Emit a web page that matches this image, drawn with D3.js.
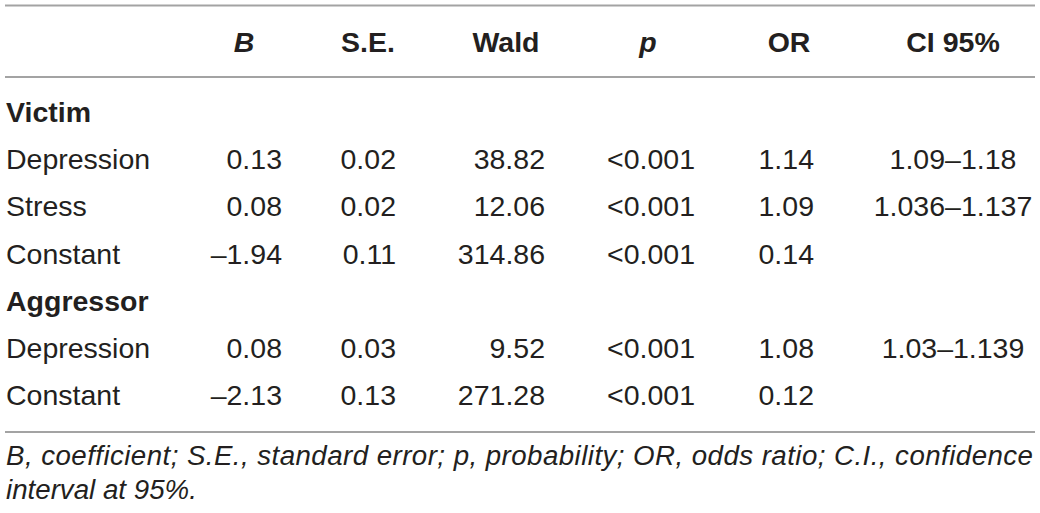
<!DOCTYPE html>
<html>
<head>
<meta charset="utf-8">
<script src="https://cdn.jsdelivr.net/npm/d3@7"></script>
<style>
  body { margin: 0; background: #fff; }
  svg { display: block; font-family: "Liberation Sans", Arial, sans-serif; }
</style>
</head>
<body>
<div id="chart"></div>
<script>
// table content
const headers = ["", "B", "S.E.", "Wald", "p", "OR", "CI 95%"];
const italicHeaders = ["B", "p"];
const groups = ["Victim", "Aggressor"];
const victimRows = [
    ["Depression", "0.13", "0.02", "38.82", "<0.001", "1.14", "1.09–1.18"],
    ["Stress", "0.08", "0.02", "12.06", "<0.001", "1.09", "1.036–1.137"],
    ["Constant", "–1.94", "0.11", "314.86", "<0.001", "0.14", ""]
];
const aggressorRows = [
    ["Depression", "0.08", "0.03", "9.52", "<0.001", "1.08", "1.03–1.139"],
    ["Constant", "–2.13", "0.13", "271.28", "<0.001", "0.12", ""]
];
const footnote = [
    "B, coefficient; S.E., standard error; p, probability; OR, odds ratio; C.I., confidence",
    "interval at 95%."
];

const width = 1040, height = 513;
const textColor = "#231f20", ruleColor = "#a3a3a3";
const fontSize = 28.5;

// row list: group headings followed by their rows
const rows = [];
rows.push({ type: "group", label: groups[0] });
victimRows.forEach(r => rows.push({ type: "row", cells: r }));
rows.push({ type: "group", label: groups[1] });
aggressorRows.forEach(r => rows.push({ type: "row", cells: r }));

const svg = d3.select("#chart")
    .append("svg")
    .attr("width", width)
    .attr("height", height);

// baselines of body rows
const y = d3.scaleLinear().domain([0, rows.length - 1]).range([122, 405]);

// column anchors for header and for values
const headerX = [0, 244, 368, 506, 648, 789, 953];
const valueX = [6, 282, 396, 545, 695, 814, 953];
const valueAnchor = ["start", "end", "end", "end", "end", "end", "middle"];

// rules
const rules = [5.5, 77, 432];
svg.selectAll(".rule")
    .data(rules)
    .join("line")
    .attr("class", "rule")
    .attr("x1", 5).attr("x2", 1035)
    .attr("y1", d => d).attr("y2", d => d)
    .attr("stroke", ruleColor)
    .attr("stroke-width", 2);

// header
svg.selectAll(".head")
    .data(headers.map((h, i) => ({ h, i })).filter(d => d.h))
    .join("text")
    .attr("class", "head")
    .attr("x", d => headerX[d.i])
    .attr("y", 52)
    .attr("text-anchor", "middle")
    .attr("font-size", fontSize)
    .attr("font-weight", "bold")
    .attr("font-style", d => italicHeaders.includes(d.h) ? "italic" : "normal")
    .attr("fill", textColor)
    .text(d => d.h);

// group headings
svg.selectAll(".group")
    .data(rows.map((r, i) => ({ ...r, i })).filter(r => r.type === "group"))
    .join("text")
    .attr("class", "group")
    .attr("x", 6)
    .attr("y", d => y(d.i))
    .attr("font-size", fontSize)
    .attr("font-weight", "bold")
    .attr("fill", textColor)
    .text(d => d.label);

// body cells
const bodyRows = svg.selectAll(".row")
    .data(rows.map((r, i) => ({ ...r, i })).filter(r => r.type === "row"))
    .join("g")
    .attr("class", "row")
    .attr("transform", d => `translate(0,${y(d.i)})`);

bodyRows.selectAll("text")
    .data(d => d.cells.map((c, j) => ({ c, j })))
    .join("text")
    .attr("x", d => valueX[d.j])
    .attr("text-anchor", d => valueAnchor[d.j])
    .attr("font-size", fontSize)
    .attr("fill", textColor)
    .text(d => d.c);

// footnote
svg.selectAll(".foot")
    .data(footnote)
    .join("text")
    .attr("class", "foot")
    .attr("x", 6)
    .attr("y", (d, i) => 465 + i * 34)
    .attr("font-size", 27.7)
    .attr("font-style", "italic")
    .attr("fill", textColor)
    .attr("textLength", (d, i) => i === 0 ? 1027 : null)
    .attr("lengthAdjust", "spacing")
    .text(d => d);
</script>
</body>
</html>
